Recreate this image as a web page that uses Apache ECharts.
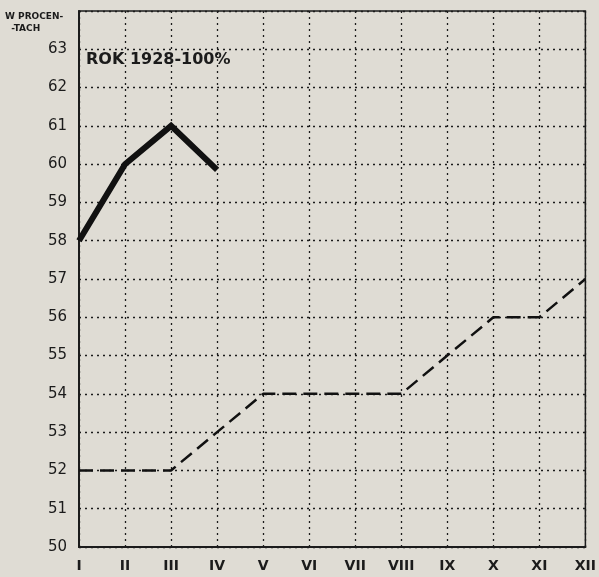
<!DOCTYPE html>
<html>
<head>
<meta charset="utf-8">
<script src="https://cdn.jsdelivr.net/npm/echarts@6/dist/echarts.min.js"></script>
<style>
  html, body { margin: 0; padding: 0; background: #dfdcd4; }
  #main { width: 599px; height: 577px; }
</style>
</head>
<body>
<div id="main"></div>
<script>
var months = ['I', 'II', 'III', 'IV', 'V', 'VI', 'VII', 'VIII', 'IX', 'X', 'XI', 'XII'];
// linia ciągła (rok bieżący)
var solidValues = [58, 60, 61, 59.85];
// linia przerywana
var dashedValues = [52, 52, 52, 53, 54, 54, 54, 54, 55, 56, 56, 57];

var myChart = echarts.init(document.getElementById('main'));
var ink = '#1b1b1b';
var option = {
    backgroundColor: '#dfdcd4',
    animation: false,
    textStyle: { fontFamily: 'DejaVu Sans' },
    grid: {
        left: 79, right: 9, top: 11, bottom: 30,
        show: true,
        borderColor: ink,
        borderWidth: 1.5
    },
    graphic: [
        {
            type: 'text', left: 5, top: 11,
            style: {
                text: 'W PROCEN-\n  -TACH',
                fill: ink, font: 'bold 9px "DejaVu Sans"', lineHeight: 12
            }
        },
        {
            type: 'text', left: 86, top: 52,
            style: {
                text: 'ROK 1928-100%',
                fill: ink, font: 'bold 16px "DejaVu Sans"'
            }
        }
    ],
    xAxis: {
        type: 'category',
        data: months,
        boundaryGap: false,
        axisLine: { show: true, lineStyle: { color: ink, width: 2 } },
        axisTick: { show: false },
        axisLabel: {
            color: ink, fontSize: 14, fontWeight: 'bold', margin: 12
        },
        splitLine: { show: true, lineStyle: { color: ink, type: [2, 4], width: 1.3 } }
    },
    yAxis: {
        type: 'value',
        min: 50, max: 64, interval: 1,
        axisLine: { show: true, lineStyle: { color: ink, width: 2 } },
        axisTick: { show: false },
        axisLabel: {
            color: ink, fontSize: 15, margin: 12,
            formatter: function (v) { return v === 64 ? '' : v; }
        },
        splitLine: { show: true, lineStyle: { color: ink, type: [2, 4], width: 1.3 } }
    },
    series: [
        {
            type: 'line',
            data: solidValues,
            symbol: 'none',
            lineStyle: { color: '#111', width: 6, join: 'miter' },
            z: 5
        },
        {
            type: 'line',
            data: dashedValues,
            symbol: 'none',
            lineStyle: { color: '#111', width: 2.5, type: [14, 7] },
            z: 4
        }
    ]
};
myChart.setOption(option);
window.addEventListener('resize', function () {
    myChart.resize();
});
</script>
</body>
</html>
